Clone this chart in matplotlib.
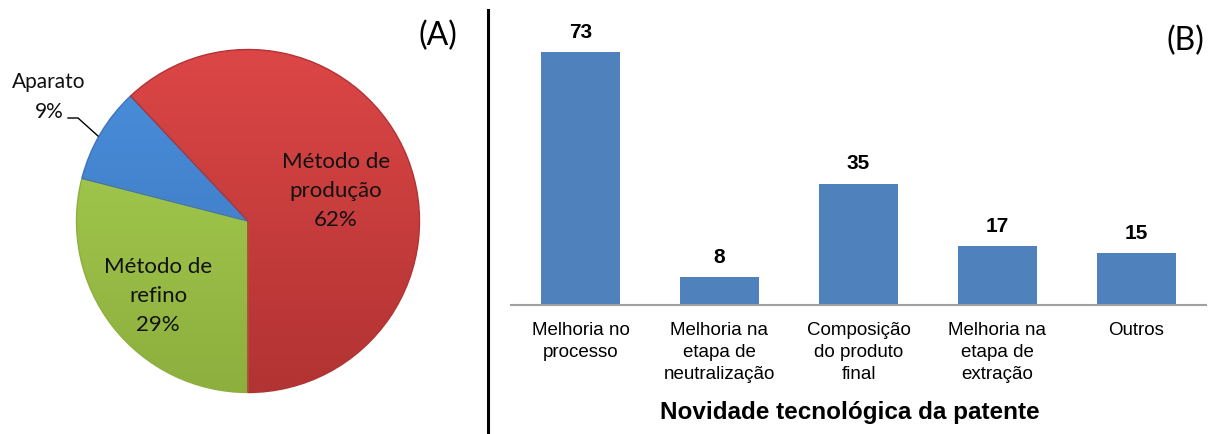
import numpy as np
import matplotlib
matplotlib.use("Agg")
import matplotlib.pyplot as plt
from matplotlib import font_manager

# pie (A)
pie_labels = ["Método de\nrefino\n29%", "Aparato\n9%", "Método de\nprodução\n62%"]
pie_values = [29, 9, 62]
pie_top = ["#AAD152", "#4A8FDB", "#DC4646"]
pie_bottom = ["#8DAF3E", "#3C74BE", "#B23333"]

# bars (B)
categories = ["Melhoria no\nprocesso", "Melhoria na\netapa de\nneutralização",
              "Composição\ndo produto\nfinal", "Melhoria na\netapa de\nextração", "Outros"]
counts = [73, 8, 35, 17, 15]
bar_color = "#4F81BD"

names = {f.name for f in font_manager.fontManager.ttflist}
narrow = "Liberation Sans Narrow" if "Liberation Sans Narrow" in names else "Liberation Sans"
pie_font = "Lato" if "Lato" in names else "DejaVu Sans"

W, H = 1208, 434
fig = plt.figure(figsize=(W / 100, H / 100), dpi=100)

# ---- pie, axes in pixel units
axp = fig.add_axes([0, 0, 480 / W, 1])
cx, cy, r = 248, H - 221, 171.5
wedges, _ = axp.pie(pie_values, startangle=-90, counterclock=False,
                    center=(cx, cy), radius=r, frame=True,
                    wedgeprops=dict(linewidth=0))
axp.set_xlim(0, 480)
axp.set_ylim(0, H)
axp.axis("off")
for w, c1, c2 in zip(wedges, pie_top, pie_bottom):
    w.set_facecolor("none")
    t = np.linspace(0, 1, 256)[:, None]
    a = np.array(matplotlib.colors.to_rgb(c1))
    b = np.array(matplotlib.colors.to_rgb(c2))
    img = (a * (1 - t) + b * t)[:, None, :].repeat(2, axis=1)
    im = axp.imshow(img, extent=(cx - r, cx + r, cy - r, cy + r),
                    origin="upper", aspect="auto", zorder=1)
    im.set_clip_path(w)
    edge = matplotlib.patches.Wedge(w.center, w.r, w.theta1, w.theta2,
                                    fill=False, edgecolor=c2, linewidth=1.0, zorder=2)
    axp.add_patch(edge)

axp.text(336, H - 191, pie_labels[2], ha="center", va="center", fontsize=16,
         family=pie_font, linespacing=1.55, color="#111111")
axp.text(158, H - 296, pie_labels[0], ha="center", va="center", fontsize=16,
         family=pie_font, linespacing=1.55, color="#111111")
axp.text(49, H - 97, pie_labels[1], ha="center", va="center", fontsize=15,
         family=pie_font, linespacing=1.6, color="#111111")
axp.plot([68, 78, 98], [H - 118, H - 118, H - 136], color="black", lw=1)
axp.text(438, H - 36, "(A)", ha="center", va="center", fontsize=23, family=pie_font)

# divider
fig.add_artist(plt.Line2D([487.5 / W, 487.5 / W], [0, 1 - 10 / H], color="black", lw=2.2))

# ---- bars
base = 305
scale = 253 / 73
axb = fig.add_axes([511 / W, (H - base) / H, 695 / W, base / H])
x = np.arange(len(categories))
axb.bar(x, counts, width=0.57, color=bar_color)
axb.set_xlim(-0.5, len(categories) - 0.5)
axb.set_ylim(0, base / scale)
for s in ["top", "left", "right"]:
    axb.spines[s].set_visible(False)
axb.spines["bottom"].set_color("#A0A0A0")
axb.spines["bottom"].set_linewidth(1.5)
axb.set_yticks([])
axb.set_xticks(x)
axb.set_xticklabels(categories, family=narrow, fontsize=13.5, linespacing=1.4)
axb.tick_params(axis="x", length=0, pad=12)
for xi, v in zip(x, counts):
    axb.text(xi, v + 20 / scale, str(v), ha="center", va="center",
             fontsize=15, fontweight="bold", family=narrow)
fig.text(850 / W, 1 - 413 / H, "Novidade tecnológica da patente", ha="center",
         va="center", fontsize=17.5, fontweight="bold", family=narrow)
fig.text(1185 / W, 1 - 41 / H, "(B)", ha="center", va="center", fontsize=23, family=pie_font)

fig.savefig("out.png", dpi=100)
